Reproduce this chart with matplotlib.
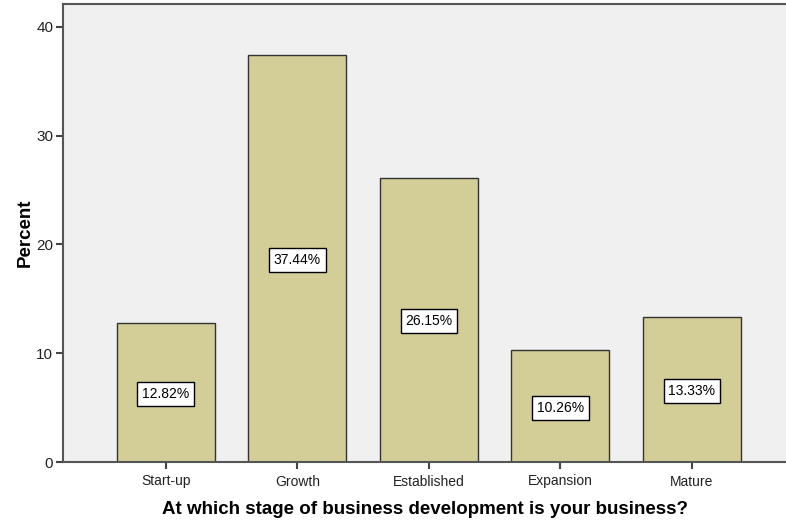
import matplotlib.pyplot as plt

stages = ["Start-up", "Growth", "Established", "Expansion", "Mature"]
percent = [12.82, 37.44, 26.15, 10.26, 13.33]

plt.rcParams['font.family'] = ['Liberation Sans', 'DejaVu Sans']

fig = plt.figure(figsize=(7.86, 5.25), dpi=100)
ax = fig.add_axes([63 / 786, 63 / 525, 723 / 786, 458 / 525])
ax.set_facecolor("#F0F0F0")

x = list(range(len(stages)))
ax.bar(x, percent, width=0.745, color="#D3CE97", edgecolor="#333333", linewidth=1.0, zorder=2)

# value boxes at mid-height of each bar
for xi, p in zip(x, percent):
    ax.text(xi, p / 2, f"{p:.2f}%", ha="center", va="center_baseline", fontsize=10, zorder=3,
            bbox=dict(boxstyle="square,pad=0.35", facecolor="white", edgecolor="black", linewidth=1.0))

ax.set_xlim(-0.783, 4.715)
ax.set_ylim(0, 42.1)
ax.set_xticks(x)
ax.set_xticklabels(stages, fontsize=10)
ax.set_yticks([0, 10, 20, 30, 40])
ax.tick_params(axis="both", direction="out", length=5, width=1.5, color="#444444", labelcolor="#222222")
ax.tick_params(axis="y", labelsize=11, pad=2)
ax.tick_params(axis="x", pad=4)

for side in ["left", "bottom", "top"]:
    ax.spines[side].set_color("#555555")
    ax.spines[side].set_linewidth(1.5)
ax.spines["right"].set_visible(False)

ax.set_xlabel("At which stage of business development is your business?", fontsize=13.5,
              fontweight="bold", labelpad=9)
ax.set_ylabel("Percent", fontsize=13.5, fontweight="bold", labelpad=2)

fig.savefig("out.png", dpi=100)
